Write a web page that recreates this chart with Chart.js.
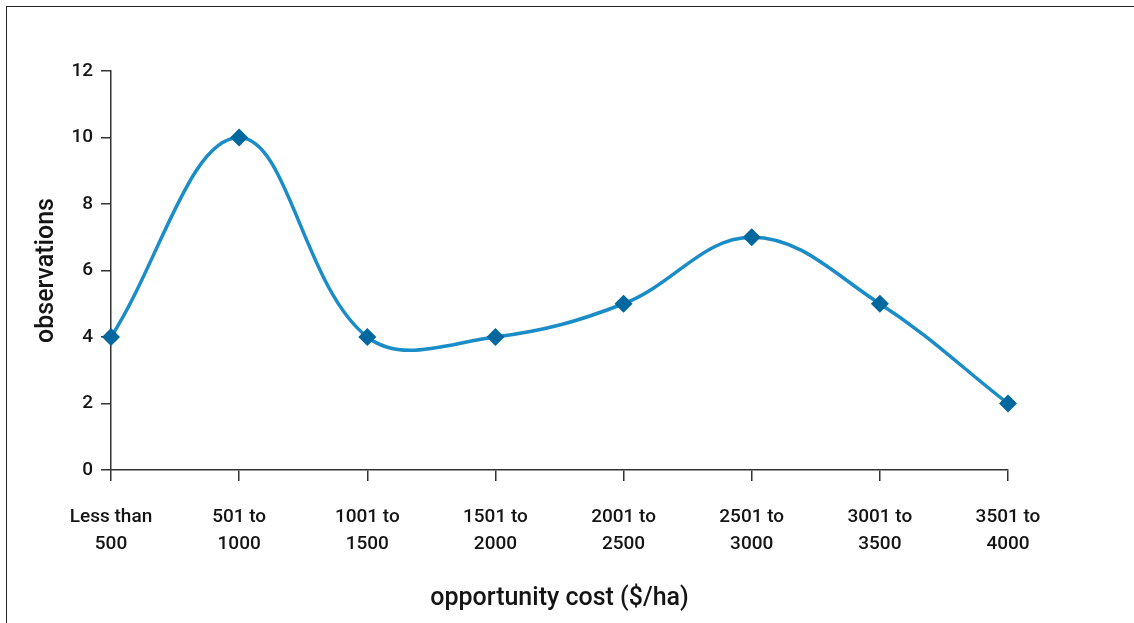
<!DOCTYPE html>
<html>
<head>
<meta charset="utf-8">
<script src="https://cdn.jsdelivr.net/npm/chart.js@4"></script>
<style>
    html, body { margin: 0; padding: 0; background: #fff; }
    #wrap { position: relative; width: 1134px; height: 623px; }
    #frame {
        position: absolute; left: 6px; top: 6px; width: 1140px; height: 640px;
        border-left: 1.5px solid #222; border-top: 1.5px solid #222;
        pointer-events: none;
    }
</style>
</head>
<body>
<div id="wrap">
    <canvas id="costChart" width="1134" height="623"></canvas>
    <div id="frame"></div>
</div>
<script>
// opportunity cost distribution
const categories = [
    ['Less than', '500'], ['501 to', '1000'], ['1001 to', '1500'], ['1501 to', '2000'],
    ['2001 to', '2500'], ['2501 to', '3000'], ['3001 to', '3500'], ['3501 to', '4000']
];
const observations = [4, 10, 4, 4, 5, 7, 5, 2];
const yTicks = [0, 2, 4, 6, 8, 10, 12];

const axisColor = '#333';
const textColor = '#141414';
const fontFamily = 'Roboto, "DejaVu Sans", sans-serif';

const ctx = document.getElementById('costChart');
window.costChart = new Chart(ctx, {
    type: 'line',
    data: {
        labels: categories,
        datasets: [{
            label: 'observations',
            data: observations,
            borderColor: '#1a8cc8',
            borderWidth: 3.5,
            tension: 0.38,
            pointStyle: 'rectRot',
            pointRadius: 9,
            pointHoverRadius: 9,
            pointBackgroundColor: '#00679f',
            pointBorderColor: '#00679f',
            pointBorderWidth: 0,
            fill: false
        }]
    },
    options: {
        responsive: false,
        animation: false,
        layout: { padding: { left: 0, top: 71, right: 126, bottom: 0 } },
        plugins: {
            legend: { display: false },
            tooltip: { enabled: false }
        },
        scales: {
            x: {
                offset: false,
                grid: { drawOnChartArea: false, drawTicks: true, tickLength: 11, color: axisColor, lineWidth: 1.5 },
                border: { display: true, color: axisColor, width: 1.5 },
                ticks: {
                    color: textColor, padding: 23, maxRotation: 0, autoSkip: false,
                    font: { family: fontFamily, size: 19, weight: '500', lineHeight: 1.4 }
                },
                title: {
                    display: true, text: 'opportunity cost ($/ha)', color: textColor,
                    font: { family: fontFamily, size: 25, weight: '500' }, padding: { top: 0, bottom: 9 }
                },
                afterFit: s => { s.height = 153; }
            },
            y: {
                min: 0,
                max: 12,
                afterBuildTicks: s => { s.ticks = yTicks.map(v => ({ value: v })); },
                grid: { drawOnChartArea: false, drawTicks: true, tickLength: 10, color: axisColor, lineWidth: 1.5 },
                border: { display: true, color: axisColor, width: 1.5 },
                ticks: {
                    color: textColor, padding: 8,
                    font: { family: fontFamily, size: 19, weight: '500' }
                },
                title: {
                    display: true, text: 'observations', color: textColor,
                    font: { family: fontFamily, size: 25, weight: '500' }, padding: { top: 32, bottom: 0 }
                },
                afterFit: s => { s.width = 111; }
            }
        }
    }
});
</script>
</body>
</html>
